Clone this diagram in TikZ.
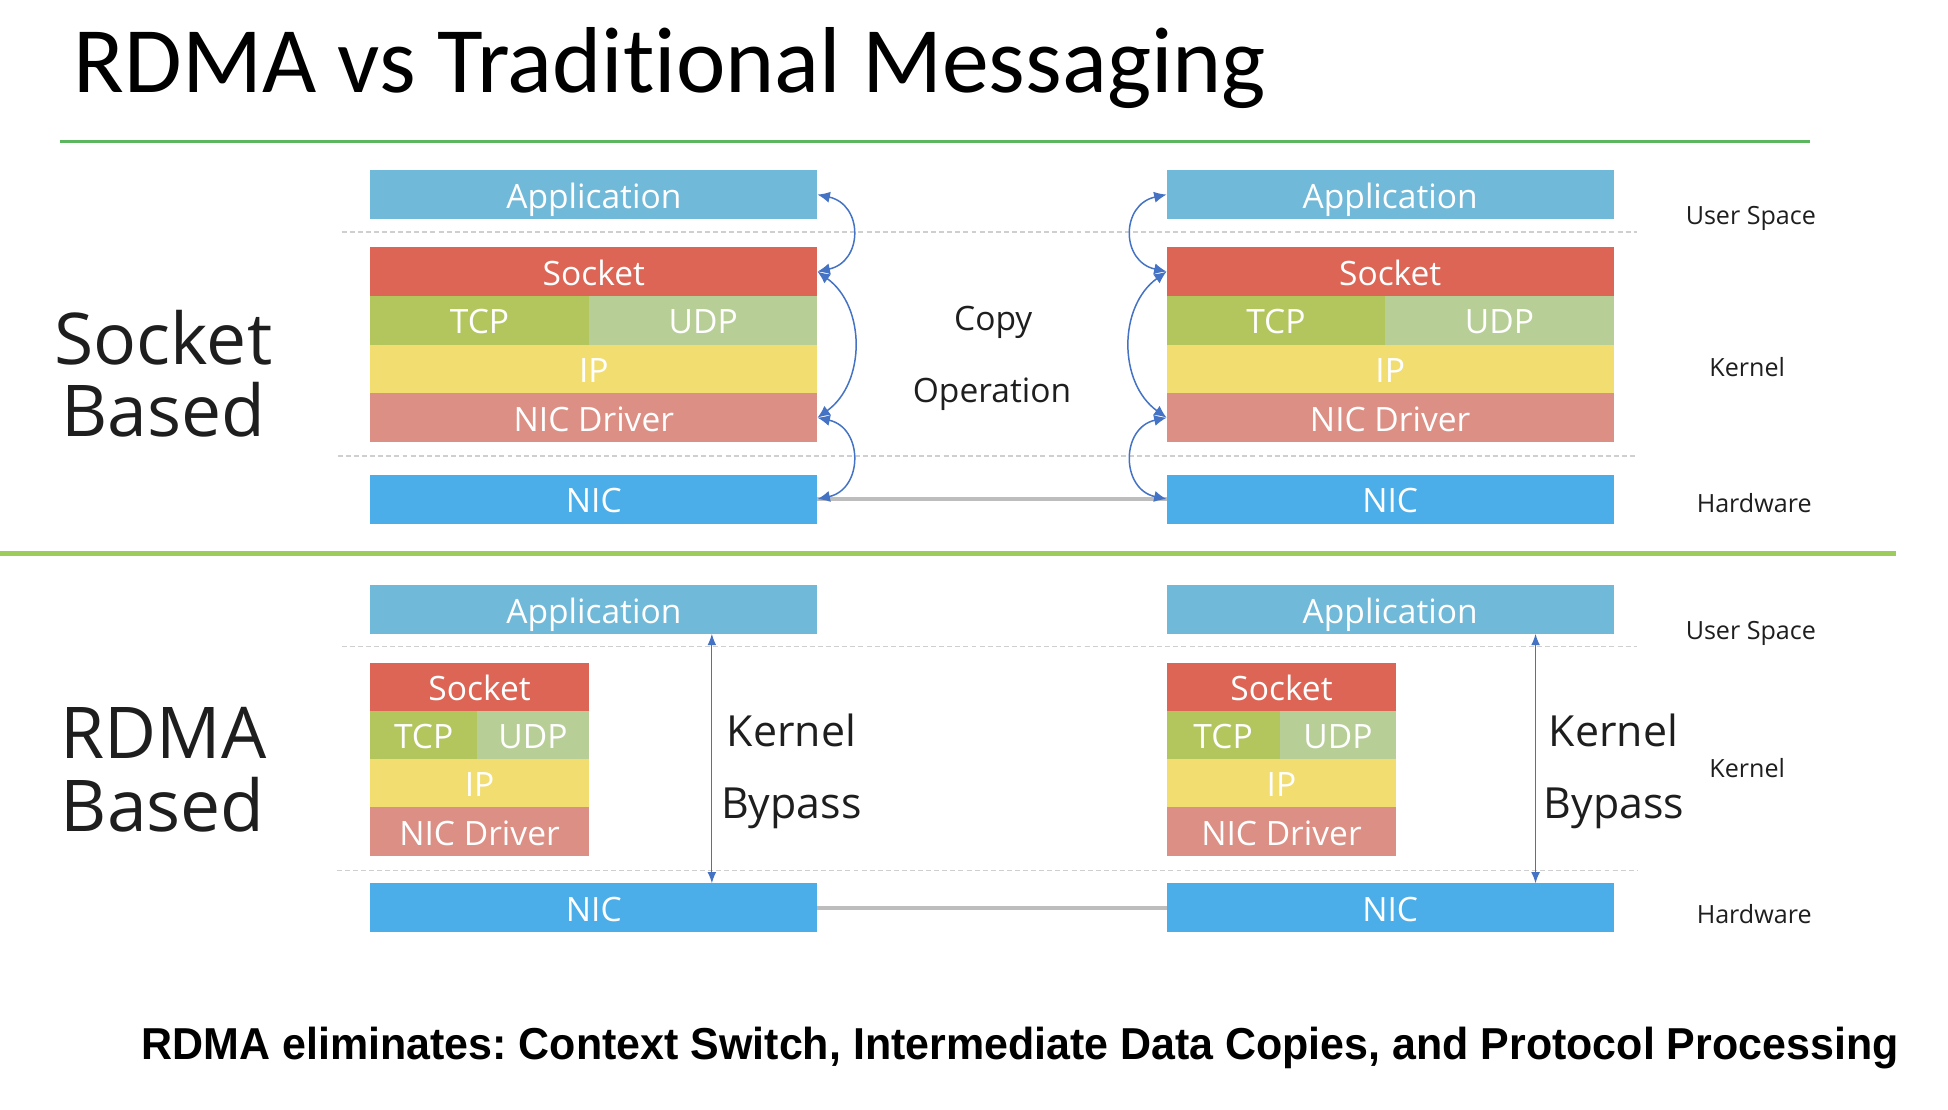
\documentclass[tikz,border=0pt]{standalone}
\usepackage{fontspec}
\usepackage{graphicx}
\setmainfont{Open Sans}
\newfontfamily\titlefont[Ligatures=NoCommon]{Carlito}
\newfontfamily\arialfont{Liberation Sans}
\usetikzlibrary{arrows.meta}
\frenchspacing
\definecolor{cApp}{HTML}{71B9D8}
\definecolor{cSock}{HTML}{DC6555}
\definecolor{cTCP}{HTML}{B3C65D}
\definecolor{cUDP}{HTML}{B8CE97}
\definecolor{cIP}{HTML}{F1DD70}
\definecolor{cDrv}{HTML}{DC8F84}
\definecolor{cNIC}{HTML}{4BAEE8}
\definecolor{cArrow}{HTML}{4472C4}
\definecolor{cLink}{HTML}{BDBDBD}
\definecolor{cDot}{HTML}{CFCFCF}
\definecolor{cTopLine}{HTML}{5CB660}
\definecolor{cSep}{HTML}{9DCB5C}
\definecolor{cText}{HTML}{1E1E1E}
\tikzset{
  layer/.style={inner sep=0pt, outer sep=0pt, anchor=north west, text=white,
    font=\fontsize{27}{30}\selectfont, text height=22pt, text depth=0pt,
    minimum height=39.2pt},
  cparrow/.style={draw=cArrow, line width=1.2pt,
    {Latex[length=10pt,width=9pt]}-{Latex[length=10pt,width=9pt]}},
  kbarrow/.style={draw=cArrow, line width=1pt,
    {Latex[length=9pt,width=7pt]}-{Latex[length=9pt,width=7pt]}},
  link/.style={draw=cLink, line width=3pt},
  sepdot/.style={draw=cDot, line width=1.2pt, dash pattern=on 4pt off 2.5pt},
  biglabel/.style={anchor=base, inner sep=0pt, text=cText, font=\fontsize{57.5}{60}\selectfont},
  midlabel/.style={anchor=base, inner sep=0pt, text=cText, font=\fontsize{27}{30}\selectfont},
  kblabel/.style={anchor=base, inner sep=0pt, text=cText, font=\fontsize{34.5}{38}\selectfont},
  sidelabel/.style={anchor=base, inner sep=0pt, text=cText, font=\fontsize{20.2}{24}\selectfont}
}
\begin{document}
\begin{tikzpicture}[x=1pt,y=-1pt]
\fill[white] (0,0) rectangle (1568,893);
\useasboundingbox (0,0) rectangle (1568,893);

% title and rules
\node[anchor=base west, inner sep=0pt, font=\titlefont\fontsize{75.4}{80}\selectfont] (title) at (59,74.5) {RDMA vs Traditional Messaging};
\draw[cTopLine, line width=2pt] (48,114) -- (1457,114);
\draw[cSep, line width=4pt] (0,445.5) -- (1526,445.5);

% ===== Socket based (top) =====
\draw[sepdot] (275,186.6) -- (1318,186.6);
\draw[sepdot] (272,367) -- (1318,367);

% left stack
\node[layer, fill=cApp, minimum width=360pt] (appTL) at (298,137) {Application};
\node[layer, fill=cSock, minimum width=360pt] (sockTL) at (298,199) {Socket};
\node[layer, fill=cTCP, minimum width=176pt] (tcpTL) at (298,238.2) {TCP};
\node[layer, fill=cUDP, minimum width=184pt] (udpTL) at (474,238.2) {UDP};
\node[layer, fill=cIP, minimum width=360pt] (ipTL) at (298,277.4) {IP};
\node[layer, fill=cDrv, minimum width=360pt] (drvTL) at (298,316.6) {NIC Driver};
\node[layer, fill=cNIC, minimum width=360pt, minimum height=39.5pt] (nicTL) at (298,382) {NIC};

% right stack
\node[layer, fill=cApp, minimum width=360pt] (appTR) at (939,137) {Application};
\node[layer, fill=cSock, minimum width=360pt] (sockTR) at (939,199) {Socket};
\node[layer, fill=cTCP, minimum width=176pt] (tcpTR) at (939,238.2) {TCP};
\node[layer, fill=cUDP, minimum width=184pt] (udpTR) at (1115,238.2) {UDP};
\node[layer, fill=cIP, minimum width=360pt] (ipTR) at (939,277.4) {IP};
\node[layer, fill=cDrv, minimum width=360pt] (drvTR) at (939,316.6) {NIC Driver};
\node[layer, fill=cNIC, minimum width=360pt, minimum height=39.5pt] (nicTR) at (939,382) {NIC};

\draw[link] (nicTL.east) -- (nicTR.west);

% copy arrows
\draw[cparrow] (appTL.east) .. controls +(37,8) and +(37,-8) .. (sockTL.east);
\draw[cparrow] (sockTL.east) .. controls +(39,28) and +(39,-28) .. (drvTL.east);
\draw[cparrow] (drvTL.east) .. controls +(37,8) and +(37,-8) .. (nicTL.east);
\draw[cparrow] (appTR.west) .. controls +(-37,8) and +(-37,-8) .. (sockTR.west);
\draw[cparrow] (sockTR.west) .. controls +(-39,28) and +(-39,-28) .. (drvTR.west);
\draw[cparrow] (drvTR.west) .. controls +(-37,8) and +(-37,-8) .. (nicTR.west);

\node[midlabel] (copyA) at (799.5,266) {Copy};
\node[midlabel] (copyB) at (798.5,324) {Operation};

\node[biglabel] (sbA) at (131.5,293) {Socket};
\node[biglabel] (sbB) at (131.5,351.6) {Based};

\node[sidelabel] (usT) at (1409.3,180.6) {User Space};
\node[sidelabel] (knT) at (1406.4,303.2) {Kernel};
\node[sidelabel] (hwT) at (1412,412.7) {Hardware};

% ===== RDMA based (bottom) =====
\draw[sepdot] (275,520.5) -- (1318,520.5);
\draw[sepdot] (271,700.5) -- (1318,700.5);

\node[layer, fill=cApp, minimum width=360pt] (appBL) at (298,471) {Application};
\node[layer, fill=cSock, minimum width=176pt] (sockBL) at (298,533.5) {Socket};
\node[layer, fill=cTCP, minimum width=86pt] (tcpBL) at (298,572.2) {TCP};
\node[layer, fill=cUDP, minimum width=90pt] (udpBL) at (384,572.2) {UDP};
\node[layer, fill=cIP, minimum width=176pt] (ipBL) at (298,610.9) {IP};
\node[layer, fill=cDrv, minimum width=176pt] (drvBL) at (298,649.6) {NIC Driver};
\node[layer, fill=cNIC, minimum width=360pt] (nicBL) at (298,711) {NIC};

\node[layer, fill=cApp, minimum width=360pt] (appBR) at (939,471) {Application};
\node[layer, fill=cSock, minimum width=185pt] (sockBR) at (939,533.5) {Socket};
\node[layer, fill=cTCP, minimum width=91pt] (tcpBR) at (939,572.2) {TCP};
\node[layer, fill=cUDP, minimum width=94pt] (udpBR) at (1030,572.2) {UDP};
\node[layer, fill=cIP, minimum width=185pt] (ipBR) at (939,610.9) {IP};
\node[layer, fill=cDrv, minimum width=185pt] (drvBR) at (939,649.6) {NIC Driver};
\node[layer, fill=cNIC, minimum width=360pt] (nicBR) at (939,711) {NIC};

\draw[link] (nicBL.east) -- (nicBR.west);

\coordinate (kbL) at (573,0);
\coordinate (kbR) at (1236,0);
\draw[kbarrow] (appBL.south -| kbL) -- (nicBL.north -| kbL);
\draw[kbarrow] (appBR.south -| kbR) -- (nicBR.north -| kbR);

\node[kblabel] (kbLA) at (637,601) {Kernel};
\node[kblabel] (kbLB) at (637,659) {Bypass};
\node[kblabel] (kbRA) at (1298.7,601) {Kernel};
\node[kblabel] (kbRB) at (1299,659) {Bypass};

\node[biglabel] (rbA) at (131.5,610.2) {RDMA};
\node[biglabel] (rbB) at (131,669.1) {Based};

\node[sidelabel] (usB) at (1409.3,514.6) {User Space};
\node[sidelabel] (knB) at (1406.4,626.2) {Kernel};
\node[sidelabel] (hwB) at (1412,743.7) {Hardware};

% bottom statement
\node[anchor=base west, inner sep=0pt] (stmt) at (114,853) {\resizebox{1414pt}{\height}{\arialfont\bfseries\fontsize{36}{40}\selectfont RDMA eliminates: Context Switch, Intermediate Data Copies, and Protocol Processing}};
\end{tikzpicture}
\end{document}
